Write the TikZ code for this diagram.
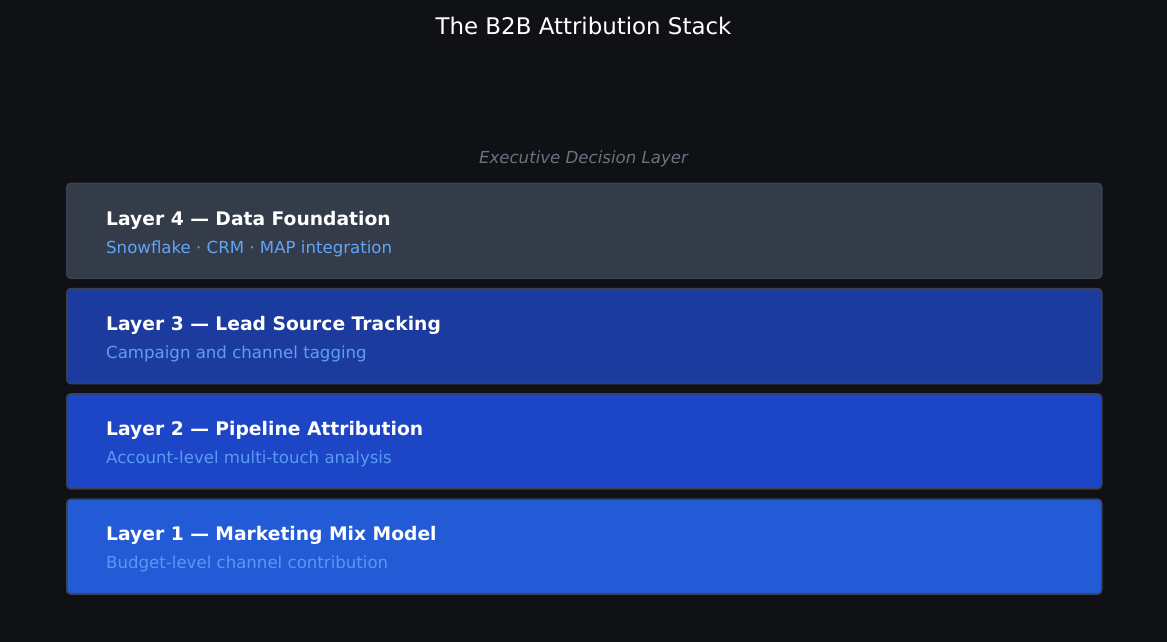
\documentclass[tikz,border=0pt]{standalone}
\usepackage{fontspec}
\setmainfont{DejaVu Sans}
\definecolor{bgdark}{HTML}{0F1115}
\definecolor{edgegray}{HTML}{3A4252}
\definecolor{fillfour}{HTML}{343C49}
\definecolor{fillthree}{HTML}{1C3B9F}
\definecolor{filltwo}{HTML}{1D46C6}
\definecolor{fillone}{HTML}{235BD6}
\definecolor{subblue}{HTML}{60A5FA}
\definecolor{notegray}{HTML}{6B7280}
\begin{document}
\begin{tikzpicture}[
x=1pt, y=-1pt,
lyr/.style = {draw=edgegray,line width=1.5pt,rounded corners=4pt,minimum width=1035pt,minimum height=95pt,anchor=north west,inner sep=0pt},
hd/.style = {anchor=base west,inner sep=0pt,text=white,font=\fontsize{18.7}{22}\selectfont\bfseries},
sb/.style = {anchor=base west,inner sep=0pt,text=subblue,font=\fontsize{16.6}{19}\selectfont},
ttl/.style = {inner sep=0pt,text=white,font=\fontsize{22.9}{27}\selectfont},
note/.style = {inner sep=0pt,text=notegray,font=\fontsize{16.6}{19}\selectfont\itshape}
]
  \fill[bgdark] (0,0) rectangle (1167,642);
  \useasboundingbox (0,0) rectangle (1167,642);

  \node[ttl] (title) at (583.5,26) {The B2B Attribution Stack};
  \node[note] (exec) at (583.5,158.5) {Executive Decision Layer};

  \node[lyr,fill=fillfour] (l4) at (66,182.5) {};
  \node[lyr,fill=fillthree] (l3) at (66,287.8) {};
  \node[lyr,fill=filltwo] (l2) at (66,393.1) {};
  \node[lyr,fill=fillone] (l1) at (66,498.4) {};

  \node[hd] (h4) at (106,225) {Layer 4 — Data Foundation};
  \node[sb] (s4) at (106,253) {Snowflake · CRM · MAP integration};
  \node[hd] (h3) at (106,330.3) {Layer 3 — Lead Source Tracking};
  \node[sb,opacity=0.95] (s3) at (106,358.3) {Campaign and channel tagging};
  \node[hd] (h2) at (106,435.6) {Layer 2 — Pipeline Attribution};
  \node[sb,opacity=0.9] (s2) at (106,463.6) {Account-level multi-touch analysis};
  \node[hd] (h1) at (106,540.9) {Layer 1 — Marketing Mix Model};
  \node[sb,opacity=0.85] (s1) at (106,568.9) {Budget-level channel contribution};

\end{tikzpicture}
\end{document}
